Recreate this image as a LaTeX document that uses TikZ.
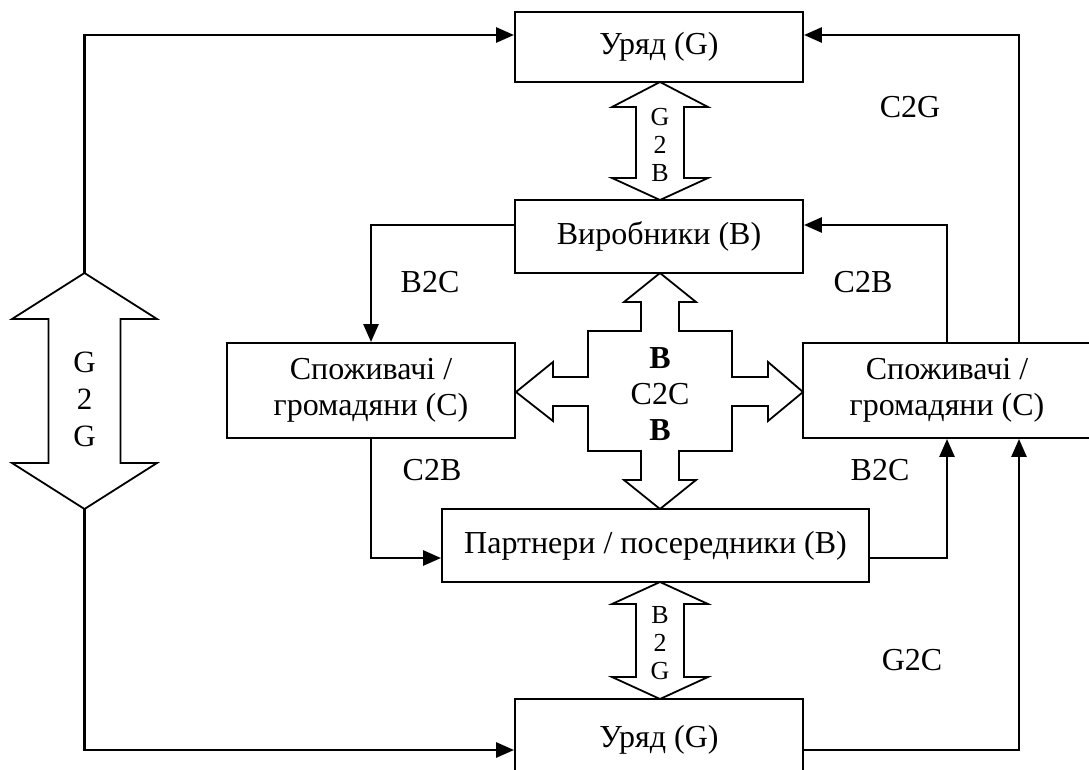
\documentclass[tikz,border=0pt]{standalone}
\usepackage{fontspec}
\setmainfont{Liberation Serif}
\usetikzlibrary{arrows.meta}
\begin{document}
\begin{tikzpicture}[x=1pt,y=-1pt,
  box/.style={draw,line width=1.9pt,inner sep=0pt,font=\fontsize{32}{36}\selectfont,align=center},
  conn/.style={line width=2.8pt,-{Triangle[length=18pt,width=15pt]}},
  blk/.style={draw,line width=1.8pt,fill=white,line join=miter},
  lbl/.style={font=\fontsize{32}{36}\selectfont,inner sep=0pt,align=center},
  vlbl/.style={font=\fontsize{26}{28}\selectfont,inner sep=0pt,align=center}
]
\useasboundingbox (0,0) rectangle (1089,769);
\clip (0,0) rectangle (1089,769);

% boxes
\node[box,minimum width=288pt,minimum height=70pt] (gtop) at (659,47) {Уряд (G)};
\node[box,minimum width=288pt,minimum height=73pt] (vyr) at (659,236.5) {Виробники (B)};
\node[box,minimum width=288pt,minimum height=95pt] (cl) at (371,390.5) {Споживачі /\\громадяни (C)};
\node[box,minimum width=288pt,minimum height=95pt] (cr) at (947,390.5) {Споживачі /\\громадяни (C)};
\node[box,minimum width=427pt,minimum height=73pt] (par) at (655.5,545.5) {Партнери / посередники (B)};
\node[box,minimum width=288pt,minimum height=82pt] (gbot) at (659,740) {\raisebox{7pt}{Уряд (G)}};

% block arrows
\draw[blk] (660,82) -- (708,107) -- (684,107) -- (684,178) -- (708,178) -- (660,200)
  -- (612,178) -- (636,178) -- (636,107) -- (612,107) -- cycle;
\node[vlbl] (g2b) at (660,145) {G\\2\\B};

\draw[blk] (660,582) -- (708,604) -- (684,604) -- (684,677) -- (708,677) -- (660,699)
  -- (612,677) -- (636,677) -- (636,604) -- (612,604) -- cycle;
\node[vlbl] (b2g) at (660,643.5) {B\\2\\G};

\coordinate (g2gt) at (84.5,273);
\coordinate (g2gb) at (84.5,509);
\draw[blk] (g2gt) -- (157,319) -- (120.5,319) -- (120.5,463) -- (157,463) -- (g2gb)
  -- (12,463) -- (48.5,463) -- (48.5,319) -- (12,319) -- cycle;
\node[font=\fontsize{31}{37}\selectfont,inner sep=0pt,align=center] (g2g) at (84.5,399.5) {G\\2\\G};

\draw[blk] (660,273) -- (696,302) -- (679,302) -- (679,331) -- (732,331) -- (732,377)
  -- (768,377) -- (768,362) -- (803,392) -- (768,421) -- (768,406) -- (732,406)
  -- (732,451) -- (679,451) -- (679,480) -- (696,480) -- (660,509) -- (624,480)
  -- (641,480) -- (641,451) -- (588,451) -- (588,406) -- (553,406) -- (553,421)
  -- (516,392) -- (553,362) -- (553,377) -- (588,377) -- (588,331) -- (641,331)
  -- (641,302) -- (624,302) -- cycle;
\node[font=\fontsize{32}{36}\selectfont,inner sep=0pt,align=center] (c2c) at (660,394) {\textbf{B}\\C2C\\\textbf{B}};

% connectors
\draw[conn] (g2gt) |- ([yshift=12pt]gtop.west);
\draw[conn] (g2gb) |- ([yshift=-10pt]gbot.west);
\draw[conn] ([yshift=11.5pt]vyr.west) -| (cl.north);
\draw[conn] (cl.south) |- ([yshift=-12.5pt]par.west);
\draw[conn] (cr.north) |- ([yshift=11.5pt]vyr.east);
\draw[conn] ([xshift=72pt]cr.north) |- ([yshift=12pt]gtop.east);
\draw[conn] ([yshift=-12.5pt]par.east) -| (cr.south);
\draw[conn] ([yshift=-10pt]gbot.east) -| ([xshift=72pt]cr.south);

% labels
\node[lbl] (lb2c1) at (430,282) {B2C};
\node[lbl] (lc2b1) at (432,470) {C2B};
\node[lbl] (lc2b2) at (863,282) {C2B};
\node[lbl] (lb2c2) at (880,470) {B2C};
\node[lbl] (lc2g) at (910,107) {C2G};
\node[lbl] (lg2c) at (912,660) {G2C};
\end{tikzpicture}
\end{document}
